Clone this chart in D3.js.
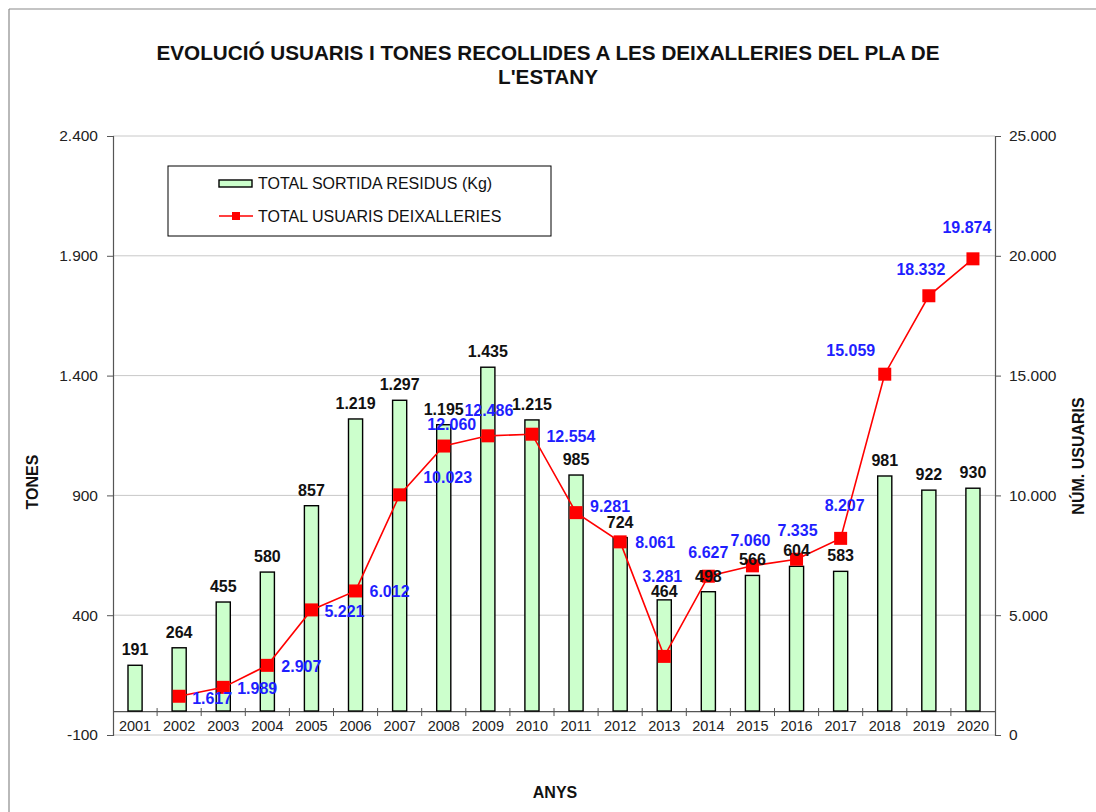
<!DOCTYPE html>
<html>
<head>
<meta charset="utf-8">
<script src="https://cdn.jsdelivr.net/npm/d3@7"></script>
<style>
  html, body { margin: 0; padding: 0; background: #fff; }
  svg { display: block; font-family: "Liberation Sans", Arial, sans-serif; }
</style>
</head>
<body>
<svg id="chart" width="1096" height="812"></svg>
<script>
// Years on the category axis
const years = ["2001","2002","2003","2004","2005","2006","2007","2008","2009","2010",
               "2011","2012","2013","2014","2015","2016","2017","2018","2019","2020"];
// Tonnes collected at the recycling centres (bars, left axis)
const tones = [191, 264, 455, 580, 857, 1219, 1297, 1195, 1435, 1215,
               985, 724, 464, 498, 566, 604, 583, 981, 922, 930];
// Number of users (line, right axis); no figure for 2001
const usuaris = [null, 1617, 1989, 2907, 5221, 6012, 10023, 12060, 12486, 12554,
                 9281, 8061, 3281, 6627, 7060, 7335, 8207, 15059, 18332, 19874];
// Axis ticks
const leftTicks = [-100, 400, 900, 1400, 1900, 2400];
const rightTicks = [0, 5000, 10000, 15000, 20000, 25000];

// Hand-placed offsets of the user-count labels relative to their markers
const userLabelOffset = [
  null, [33, 2], [34, 1], [34, 1], [33, 1], [34, 0], [48, -17], [8, -22], [1, -25], [39, 2],
  [34, -6], [35, 1], [-2, -80], [0, -24], [-2, -25], [1, -29], [4, -33], [-34, -24], [-8, -26], [-6, -31]
];
// Gap between a bar top and its tonnage label baseline
const tonesLabelGap = years.map(y => (y === "2013" ? 3 : 10));

const svg = d3.select("#chart");
const plot = { left: 113, right: 995, top: 136, bottom: 735 };

// Catalan number format: dot as thousands separator, plain hyphen for negatives
const fmt = d3.formatLocale({ decimal: ",", thousands: ".", grouping: [3], currency: ["", " €"], minus: "-" }).format(",d");

const x = d3.scaleBand().domain(years).range([plot.left, plot.right]).padding(0);
const yL = d3.scaleLinear().domain([-100, 2400]).range([plot.bottom, plot.top]);
const yR = d3.scaleLinear().domain([0, 25000]).range([plot.bottom, plot.top]);
const barW = x.bandwidth() * 0.32;
const cx = d => x(d) + x.bandwidth() / 2;

// Outer frame
svg.append("line").attr("x1", 9).attr("x2", 1096).attr("y1", 9).attr("y2", 9)
  .attr("stroke", "#8a8a8a").attr("stroke-width", 1.2);
svg.append("line").attr("x1", 9).attr("x2", 9).attr("y1", 9).attr("y2", 812)
  .attr("stroke", "#8a8a8a").attr("stroke-width", 1.2);

// Title (two lines, condensed bold)
const titleLines = ["EVOLUCIÓ USUARIS I TONES RECOLLIDES A LES DEIXALLERIES DEL PLA DE", "L'ESTANY"];
const tl = svg.append("g").selectAll("text").data(titleLines).join("text")
  .attr("x", 548).attr("y", (d, i) => 60 + i * 24)
  .attr("text-anchor", "middle")
  .attr("font-size", 21).attr("font-weight", "bold").attr("fill", "#111")
  .text(d => d);
const ratio = 783 / tl.nodes()[0].getComputedTextLength();
tl.each(function () {
  const w = this.getComputedTextLength() * ratio;
  d3.select(this).attr("textLength", w).attr("lengthAdjust", "spacingAndGlyphs");
});

// Gridlines
svg.append("g").selectAll("line").data(leftTicks).join("line")
  .attr("x1", plot.left).attr("x2", plot.right)
  .attr("y1", d => yL(d)).attr("y2", d => yL(d))
  .attr("stroke", "#c8c8c8").attr("stroke-width", 1);

// Left axis
const gL = svg.append("g").attr("transform", `translate(${plot.left},0)`)
  .call(d3.axisLeft(yL).tickValues(leftTicks).tickSize(6).tickPadding(9).tickFormat(fmt));
gL.select(".domain").attr("stroke", "#555").attr("stroke-width", 1.2);
gL.selectAll(".tick line").attr("stroke", "#555");
gL.selectAll(".tick text").attr("font-size", 15.5).attr("fill", "#222").attr("font-family", "Liberation Sans, Arial, sans-serif");

// Right axis
const gR = svg.append("g").attr("transform", `translate(${plot.right},0)`)
  .call(d3.axisRight(yR).tickValues(rightTicks).tickSize(6).tickPadding(8).tickFormat(fmt));
gR.select(".domain").attr("stroke", "#555").attr("stroke-width", 1.2);
gR.selectAll(".tick line").attr("stroke", "#555");
gR.selectAll(".tick text").attr("font-size", 15.5).attr("fill", "#222").attr("font-family", "Liberation Sans, Arial, sans-serif");

// Category axis, crossing at zero tonnes
const y0 = yL(0);
const gX = svg.append("g").attr("transform", `translate(0,${y0})`)
  .call(d3.axisBottom(x).tickSize(0).tickPadding(10));
gX.select(".domain").attr("stroke", "#555").attr("stroke-width", 1.2);
gX.selectAll(".tick text").attr("font-size", 14.5).attr("fill", "#222").attr("font-family", "Liberation Sans, Arial, sans-serif");
// Tick marks on category boundaries
svg.append("g").selectAll("line").data(years.slice(1)).join("line")
  .attr("x1", d => x(d)).attr("x2", d => x(d))
  .attr("y1", y0 - 3).attr("y2", y0 + 5)
  .attr("stroke", "#555").attr("stroke-width", 1);

// Bars
svg.append("g").selectAll("rect").data(years).join("rect")
  .attr("x", d => cx(d) - barW / 2)
  .attr("width", barW)
  .attr("y", (d, i) => yL(tones[i]))
  .attr("height", (d, i) => y0 - yL(tones[i]))
  .attr("fill", "#ccffcc").attr("stroke", "#000").attr("stroke-width", 1.4);

// Users line
const pts = years.map((d, i) => ({ year: d, v: usuaris[i], off: userLabelOffset[i] })).filter(p => p.v !== null);
svg.append("path").datum(pts)
  .attr("d", d3.line().x(p => cx(p.year)).y(p => yR(p.v)))
  .attr("fill", "none").attr("stroke", "#ff0000").attr("stroke-width", 1.6);
svg.append("g").selectAll("rect").data(pts).join("rect")
  .attr("x", p => cx(p.year) - 6.5).attr("y", p => yR(p.v) - 6.5)
  .attr("width", 13).attr("height", 13).attr("fill", "#ff0000");

// User-count labels
svg.append("g").selectAll("text").data(pts).join("text")
  .attr("x", p => cx(p.year) + p.off[0])
  .attr("y", p => yR(p.v) + p.off[1])
  .attr("dy", "0.35em")
  .attr("text-anchor", "middle")
  .attr("font-size", 16).attr("font-weight", "bold").attr("fill", "#1f1fff")
  .text(p => fmt(p.v));

// Tonnage labels
svg.append("g").selectAll("text").data(years).join("text")
  .attr("x", d => cx(d))
  .attr("y", (d, i) => yL(tones[i]) - tonesLabelGap[i])
  .attr("text-anchor", "middle")
  .attr("font-size", 16).attr("font-weight", "bold").attr("fill", "#111")
  .text((d, i) => fmt(tones[i]));

// Axis titles
svg.append("text").attr("transform", "translate(38,482) rotate(-90)")
  .attr("text-anchor", "middle").attr("font-size", 16).attr("font-weight", "bold").attr("fill", "#111")
  .text("TONES");
svg.append("text").attr("transform", "translate(1084,456) rotate(-90)")
  .attr("text-anchor", "middle").attr("font-size", 16).attr("font-weight", "bold").attr("fill", "#111")
  .text("NÚM. USUARIS");
svg.append("text").attr("x", 555).attr("y", 798)
  .attr("text-anchor", "middle").attr("font-size", 16).attr("font-weight", "bold").attr("fill", "#111")
  .text("ANYS");

// Legend
const lg = svg.append("g");
lg.append("rect").attr("x", 168).attr("y", 166).attr("width", 383).attr("height", 70)
  .attr("fill", "#fff").attr("stroke", "#000").attr("stroke-width", 1);
lg.append("rect").attr("x", 219).attr("y", 180).attr("width", 33).attr("height", 7)
  .attr("fill", "#ccffcc").attr("stroke", "#000").attr("stroke-width", 1.4);
lg.append("text").attr("x", 258).attr("y", 183).attr("dy", "0.35em")
  .attr("font-size", 16).attr("fill", "#111").text("TOTAL SORTIDA RESIDUS (Kg)");
lg.append("line").attr("x1", 219).attr("x2", 253).attr("y1", 216).attr("y2", 216)
  .attr("stroke", "#ff0000").attr("stroke-width", 1.6);
lg.append("rect").attr("x", 232).attr("y", 212).attr("width", 8).attr("height", 8).attr("fill", "#ff0000");
lg.append("text").attr("x", 258).attr("y", 216).attr("dy", "0.35em")
  .attr("font-size", 16).attr("fill", "#111").text("TOTAL USUARIS DEIXALLERIES");
</script>
</body>
</html>
